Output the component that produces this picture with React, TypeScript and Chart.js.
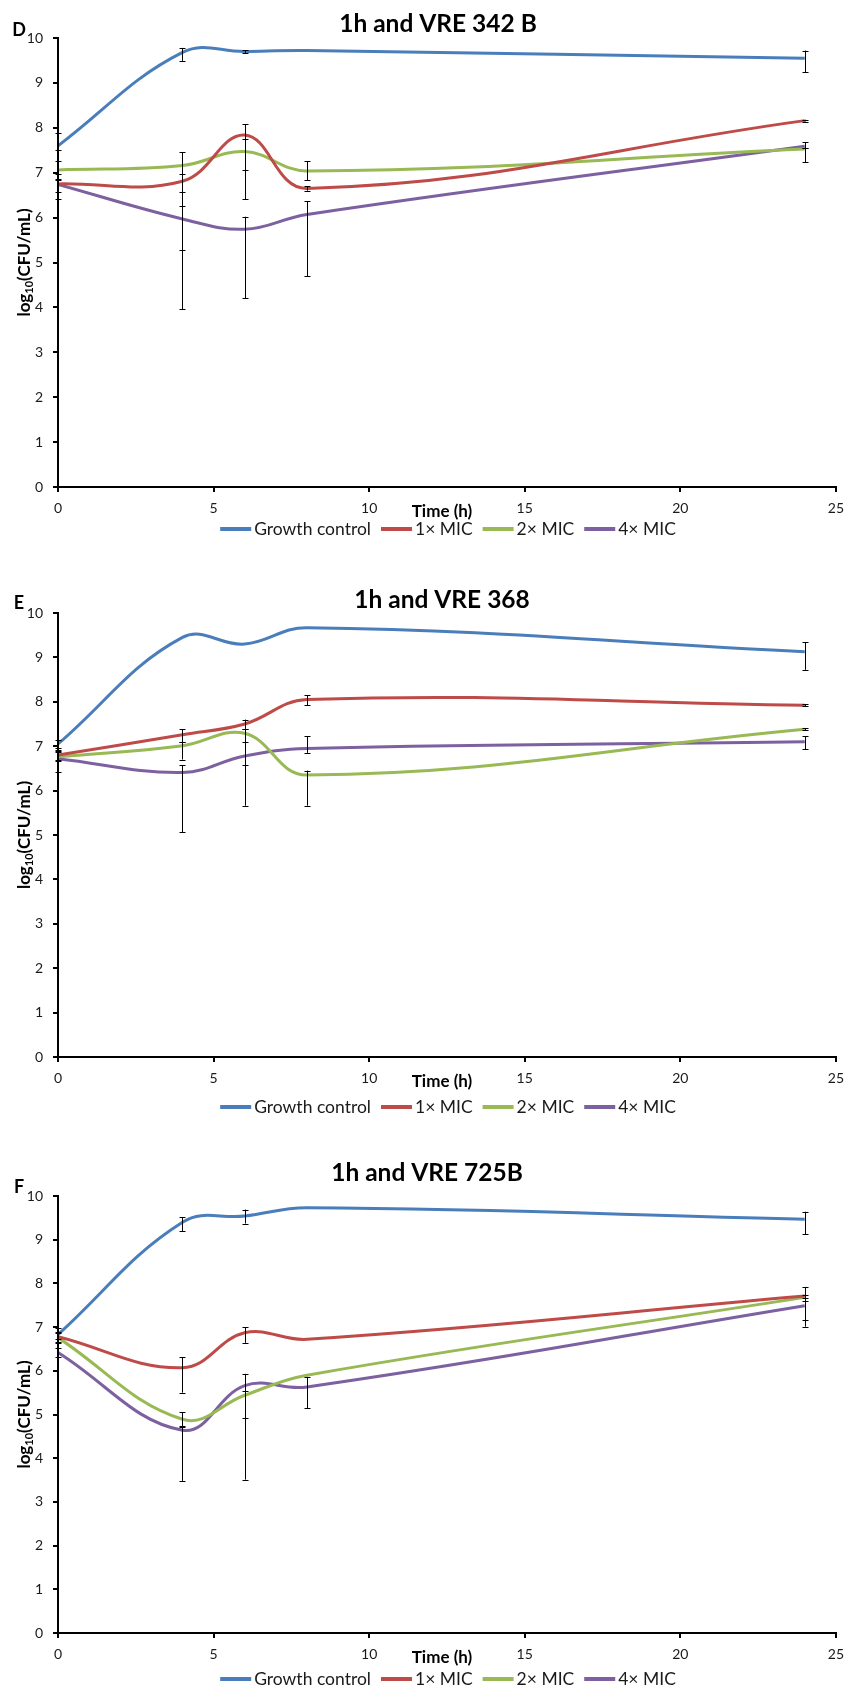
import React, { useEffect, useRef } from "react";
import { Chart, registerables } from "chart.js";

Chart.register(...registerables);

// ---------- shared data ----------
const times = [0, 4, 6, 8, 24];
const seriesNames = ["Growth control", "1× MIC", "2× MIC", "4× MIC"];
const seriesColors = ["#4A7EBB", "#BE4B48", "#98B954", "#7D60A0"];
const xTickValues = [0, 5, 10, 15, 20, 25];
const yTickValues = [0, 1, 2, 3, 4, 5, 6, 7, 8, 9, 10];

// ---------- Panel D : 1h and VRE 342 B ----------
const dGrowth = [7.6, 9.68, 9.7, 9.72, 9.55];
const dMic1 = [6.75, 6.81, 7.84, 6.65, 8.16];
const dMic2 = [7.06, 7.16, 7.47, 7.04, 7.53];
const dMic4 = [6.74, 5.97, 5.74, 6.07, 7.59];
// error bars as [minus, plus]
const dGrowthErr = [[0.1, 0.28], [0.19, 0.1], [0.03, 0.03], [0, 0], [0.31, 0.17]];
const dMic1Err = [[0.17, 0.1], [1.53, 0.15], [1.43, 0.24], [0.05, 0.05], [0.02, 0.02]];
const dMic2Err = [[0.1, 0.21], [0.59, 0.29], [0.41, 0.27], [0.21, 0.21], [0.3, 0.02]];
const dMic4Err = [[0.33, 0.1], [2.01, 0.29], [1.54, 0.28], [1.37, 0.29], [0.05, 0.09]];

// ---------- Panel E : 1h and VRE 368 ----------
const eGrowth = [7.05, 9.45, 9.3, 9.67, 9.13];
const eMic1 = [6.8, 7.26, 7.5, 8.05, 7.92];
const eMic2 = [6.76, 7.01, 7.29, 6.35, 7.38];
const eMic4 = [6.72, 6.41, 6.78, 6.95, 7.1];
const eGrowthErr = [[0.1, 0.1], [0, 0], [0, 0], [0, 0], [0.41, 0.21]];
const eMic1Err = [[0.1, 0.1], [0.17, 0.12], [0.11, 0.1], [0.13, 0.1], [0.02, 0.02]];
const eMic2Err = [[0.1, 0.1], [0.31, 0.08], [1.63, 0.1], [0.69, 0.1], [0.02, 0.02]];
const eMic4Err = [[0.3, 0.2], [1.35, 0.16], [0.21, 0.31], [0.1, 0.27], [0.17, 0.13]];

// ---------- Panel F : 1h and VRE 725B ----------
const fGrowth = [6.83, 9.4, 9.54, 9.73, 9.47];
const fMic1 = [6.78, 6.07, 6.87, 6.72, 7.71];
const fMic2 = [6.76, 4.89, 5.44, 5.9, 7.68];
const fMic4 = [6.42, 4.64, 5.66, 5.63, 7.49];
const fGrowthErr = [[0.1, 0.15], [0.2, 0.11], [0.17, 0.15], [0, 0], [0.34, 0.17]];
const fMic1Err = [[0.15, 0.1], [0.57, 0.24], [0.23, 0.13], [0, 0], [0.05, 0.21]];
const fMic2Err = [[0.1, 0.1], [0.16, 0.16], [0.53, 0.1], [0, 0], [0.52, 0.05]];
const fMic4Err = [[0.1, 0.1], [1.16, 0.08], [2.15, 0.27], [0.49, 0.23], [0.48, 0.1]];

const FONT = "Lato, 'Open Sans', sans-serif";

type PanelCfg = {
  letter: string;
  title: string;
  series: number[][];
  errs: number[][][];
  top: number;
  h: number;
  plotTop: number;
  plotBottom: number;
  titleX: number;
  titleY: number;
  letterY: number;
  legendDy: number;
};

const panels: PanelCfg[] = [
  {
    letter: "D",
    title: "1h and VRE 342 B",
    series: [dGrowth, dMic1, dMic2, dMic4],
    errs: [dGrowthErr, dMic1Err, dMic2Err, dMic4Err],
    top: 0,
    h: 545,
    plotTop: 38,
    plotBottom: 487,
    titleX: 438,
    titleY: 24,
    letterY: 30,
    legendDy: 42,
  },
  {
    letter: "E",
    title: "1h and VRE 368",
    series: [eGrowth, eMic1, eMic2, eMic4],
    errs: [eGrowthErr, eMic1Err, eMic2Err, eMic4Err],
    top: 545,
    h: 575,
    plotTop: 68,
    plotBottom: 512,
    titleX: 442,
    titleY: 55,
    letterY: 58,
    legendDy: 50,
  },
  {
    letter: "F",
    title: "1h and VRE 725B",
    series: [fGrowth, fMic1, fMic2, fMic4],
    errs: [fGrowthErr, fMic1Err, fMic2Err, fMic4Err],
    top: 1120,
    h: 569,
    plotTop: 76,
    plotBottom: 513,
    titleX: 427,
    titleY: 53,
    letterY: 67,
    legendDy: 46,
  },
];

const X_AXIS_H = 30;

function Panel({ cfg }: { cfg: PanelCfg }) {
  const ref = useRef<HTMLCanvasElement | null>(null);

  useEffect(() => {
    if (!ref.current) return;

    const errorBarPlugin = {
      id: "errorBars",
      afterDatasetsDraw(chart: any) {
        const ctx = chart.ctx;
        const xs = chart.scales.x;
        const ys = chart.scales.y;
        ctx.save();
        ctx.strokeStyle = "#000";
        ctx.lineWidth = 1;
        chart.data.datasets.forEach((ds: any) => {
          const errs = ds.errBars as number[][];
          ds.data.forEach((p: any, j: number) => {
            const [minus, plus] = errs[j];
            if (minus === 0 && plus === 0) return;
            const x = Math.round(xs.getPixelForValue(p.x)) + 0.5;
            const y1 = ys.getPixelForValue(p.y - minus);
            const y2 = ys.getPixelForValue(p.y + plus);
            ctx.beginPath();
            ctx.moveTo(x, y1);
            ctx.lineTo(x, y2);
            ctx.moveTo(x - 3, Math.round(y1) + 0.5);
            ctx.lineTo(x + 3, Math.round(y1) + 0.5);
            ctx.moveTo(x - 3, Math.round(y2) + 0.5);
            ctx.lineTo(x + 3, Math.round(y2) + 0.5);
            ctx.stroke();
          });
        });
        ctx.restore();
      },
    };

    const textPlugin = {
      id: "texts",
      afterDraw(chart: any) {
        const ctx = chart.ctx;
        const area = chart.chartArea;
        ctx.save();
        ctx.fillStyle = "#000";
        ctx.textBaseline = "middle";

        // panel letter
        ctx.font = `bold 18px ${FONT}`;
        ctx.textAlign = "center";
        ctx.fillText(cfg.letter, 19, cfg.letterY);

        // title
        ctx.font = `bold 24.5px ${FONT}`;
        ctx.fillText(cfg.title, cfg.titleX, cfg.titleY);

        // x axis title
        ctx.font = `bold 17px ${FONT}`;
        ctx.fillText("Time (h)", 442, area.bottom + 25);

        // y axis title with subscript
        const cy = (area.top + area.bottom) / 2;
        ctx.translate(25, cy);
        ctx.rotate(-Math.PI / 2);
        const main = `bold 17px ${FONT}`;
        const sub = `bold 11px ${FONT}`;
        ctx.font = main;
        const wLog = ctx.measureText("log").width;
        const wRest = ctx.measureText("(CFU/mL)").width;
        ctx.font = sub;
        const wSub = ctx.measureText("10").width;
        const total = wLog + wSub + wRest;
        let x0 = -total / 2;
        ctx.textAlign = "left";
        ctx.font = main;
        ctx.fillText("log", x0, 0);
        x0 += wLog;
        ctx.font = sub;
        ctx.fillText("10", x0, 4);
        x0 += wSub;
        ctx.font = main;
        ctx.fillText("(CFU/mL)", x0, 0);
        ctx.setTransform(1, 0, 0, 1, 0, 0);

        // legend
        ctx.font = `17.5px ${FONT}`;
        ctx.textAlign = "left";
        const sample = 31;
        const gapText = 3;
        const gapItem = 10;
        const widths = seriesNames.map((n) => ctx.measureText(n).width);
        const totalW =
          widths.reduce((a, b) => a + b, 0) +
          seriesNames.length * (sample + gapText) +
          (seriesNames.length - 1) * gapItem;
        let lx = 448 - totalW / 2;
        const ly = area.bottom + cfg.legendDy;
        seriesNames.forEach((n, i) => {
          ctx.strokeStyle = seriesColors[i];
          ctx.lineWidth = 4;
          ctx.beginPath();
          ctx.moveTo(lx, ly);
          ctx.lineTo(lx + sample, ly);
          ctx.stroke();
          lx += sample + gapText;
          ctx.fillStyle = "#1a1a1a";
          ctx.fillText(n, lx, ly);
          lx += widths[i] + gapItem;
        });
        ctx.restore();
      },
    };

    const datasets = cfg.series.map((vals, i) => ({
      label: seriesNames[i],
      data: times.map((t, j) => ({ x: t, y: vals[j] })),
      borderColor: seriesColors[i],
      backgroundColor: seriesColors[i],
      borderWidth: 3,
      pointRadius: 0,
      tension: 0.4,
      fill: false,
      errBars: cfg.errs[i],
    }));

    const chart = new Chart(ref.current, {
      type: "line",
      data: { datasets: datasets as any },
      options: {
        animation: false,
        responsive: false,
        devicePixelRatio: 1,
        layout: {
          padding: {
            left: 0,
            right: 16,
            top: cfg.plotTop,
            bottom: cfg.h - cfg.plotBottom - X_AXIS_H,
          },
        },
        plugins: {
          legend: { display: false },
          title: { display: false },
          tooltip: { enabled: false },
        },
        scales: {
          x: {
            type: "linear",
            min: 0,
            max: 25,
            afterBuildTicks: (scale: any) => {
              scale.ticks = xTickValues.map((v) => ({ value: v }));
            },
            afterFit: (scale: any) => {
              scale.height = X_AXIS_H;
            },
            grid: {
              display: true,
              drawOnChartArea: false,
              drawTicks: true,
              tickLength: 5,
              color: "#000",
              lineWidth: 2,
            },
            border: { display: true, color: "#000", width: 2 },
            ticks: {
              font: { family: FONT, size: 14 },
              color: "#1a1a1a",
              padding: 8,
              maxRotation: 0,
            },
          },
          y: {
            type: "linear",
            min: 0,
            max: 10,
            afterBuildTicks: (scale: any) => {
              scale.ticks = yTickValues.map((v) => ({ value: v }));
            },
            afterFit: (scale: any) => {
              scale.width = 58;
            },
            grid: {
              display: true,
              drawOnChartArea: false,
              drawTicks: true,
              tickLength: 5,
              color: "#000",
              lineWidth: 2,
            },
            border: { display: true, color: "#000", width: 2 },
            ticks: {
              font: { family: FONT, size: 14 },
              color: "#1a1a1a",
              padding: 10,
            },
          },
        },
      } as any,
      plugins: [errorBarPlugin, textPlugin],
    });

    return () => chart.destroy();
  }, [cfg]);

  return (
    <canvas
      ref={ref}
      width={852}
      height={cfg.h}
      style={{
        position: "absolute",
        left: 0,
        top: cfg.top,
        width: 852,
        height: cfg.h,
        display: "block",
      }}
    />
  );
}

export default function App() {
  return (
    <div
      style={{
        position: "absolute",
        left: 0,
        top: 0,
        width: 852,
        height: 1689,
        background: "#fff",
        overflow: "hidden",
      }}
    >
      {panels.map((p) => (
        <Panel key={p.letter} cfg={p} />
      ))}
    </div>
  );
}
